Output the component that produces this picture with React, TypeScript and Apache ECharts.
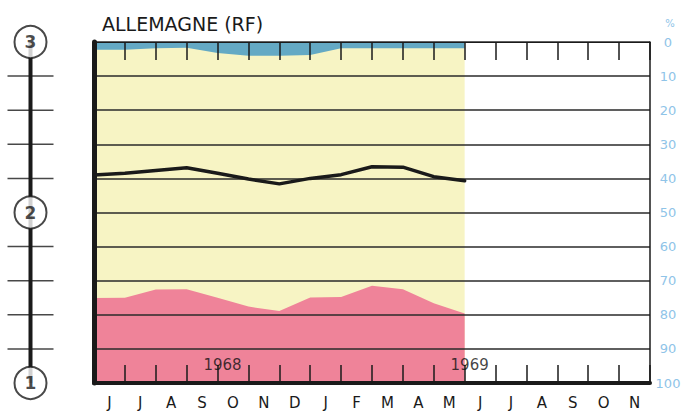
import React, { useEffect, useRef } from "react";
import * as echarts from "echarts";

const months = ["J", "J", "A", "S", "O", "N", "D", "J", "F", "M", "A", "M", "J", "J", "A", "S", "O", "N"];
const dataX = [0, 1, 2, 3, 4, 5, 6, 7, 8, 9, 10, 11, 12];
const blueShare = [2.3, 2.3, 1.8, 1.7, 3.2, 4.0, 4.0, 3.8, 1.8, 1.8, 1.8, 1.8, 1.8];
const blackLine = [39.0, 38.5, 37.7, 36.9, 38.5, 40.2, 41.6, 40.0, 38.9, 36.6, 36.7, 39.5, 40.7];
const pinkShare = [75.1, 75.0, 72.6, 72.5, 75.0, 77.6, 78.9, 74.9, 74.8, 71.5, 72.5, 76.6, 79.6];
const years = ["1968", "1969"];
const yearPos = [4, 12];
const yearLevel = 94.7;
const shadedSpan = [0, 12];
const leftTickLevels = [10, 20, 30, 40, 60, 70, 80, 90];
const circleLevels = [0, 50, 100];
const circleLabels = ["3", "2", "1"];

const BLUE = "#64a9c4";
const YELLOW = "#f7f4c4";
const PINK = "#ef8399";
const LABEL_BLUE = "#8fc4e8";
const INK = "#1a1a1a";
const FONT = "DejaVu Sans";

export default function App() {
  const ref = useRef<HTMLDivElement>(null);
  useEffect(() => {
    if (!ref.current) return;
    const chart = echarts.init(ref.current, null, { renderer: "svg" });
    chart.setOption({
      animation: false,
      backgroundColor: "#ffffff",
      title: {
        text: "ALLEMAGNE (RF)",
        left: 97,
        top: 9,
        textStyle: { fontFamily: FONT, fontSize: 19, fontWeight: "normal", color: INK },
      },
      graphic: [
        {
          type: "text",
          x: 670,
          y: 23,
          style: { text: "%", fontSize: 10, fontFamily: FONT, fill: LABEL_BLUE, align: "center", verticalAlign: "middle" },
        },
      ],
      grid: [
        { left: 94, right: 41, top: 42, bottom: 32 },
        { left: 8, width: 45, top: 42, bottom: 32 },
      ],
      xAxis: [
        {
          type: "category",
          gridIndex: 0,
          data: months,
          boundaryGap: true,
          position: "bottom",
          z: 5,
          axisLine: { show: true, onZero: false, lineStyle: { color: INK, width: 4 } },
          axisTick: { show: true, interval: 0, inside: true, length: 18, lineStyle: { color: INK, width: 1.5 } },
          axisLabel: { show: true, interval: 0, color: INK, fontSize: 15, fontFamily: FONT, margin: 12 },
        },
        {
          type: "category",
          gridIndex: 0,
          data: months,
          boundaryGap: true,
          position: "top",
          z: 5,
          axisLine: { show: true, onZero: false, lineStyle: { color: INK, width: 1 } },
          axisTick: { show: true, interval: 0, inside: true, length: 18, lineStyle: { color: INK, width: 1.5 } },
          axisLabel: { show: false },
        },
        { type: "value", gridIndex: 0, min: 0, max: 18, show: false },
        { type: "value", gridIndex: 1, min: 0, max: 1, show: false },
      ],
      yAxis: [
        {
          type: "value",
          gridIndex: 0,
          inverse: true,
          min: 0,
          max: 100,
          interval: 10,
          position: "left",
          z: 5,
          axisLine: { show: true, onZero: false, lineStyle: { color: INK, width: 5 } },
          axisTick: { show: false },
          axisLabel: { show: false },
          splitLine: { show: true, lineStyle: { color: "#2a2a2a", width: 1.5 } },
        },
        {
          type: "value",
          gridIndex: 0,
          inverse: true,
          min: 0,
          max: 100,
          interval: 10,
          position: "right",
          z: 5,
          axisLine: { show: true, onZero: false, lineStyle: { color: INK, width: 1.5 } },
          axisTick: { show: false },
          splitLine: { show: false },
          axisLabel: { color: LABEL_BLUE, fontSize: 13, fontFamily: FONT, margin: 18, align: "center" },
        },
        { type: "value", gridIndex: 1, inverse: true, min: 0, max: 100, show: false },
      ],
      series: [
        {
          type: "line",
          xAxisIndex: 2,
          yAxisIndex: 0,
          z: 1,
          data: [],
          markArea: {
            silent: true,
            itemStyle: { color: YELLOW },
            data: [[{ xAxis: shadedSpan[0] }, { xAxis: shadedSpan[1] }]],
          },
        },
        {
          type: "line",
          xAxisIndex: 2,
          yAxisIndex: 0,
          z: 2,
          symbol: "none",
          data: dataX.map((x, i) => [x, blueShare[i]]),
          lineStyle: { width: 0 },
          areaStyle: { origin: "start", color: BLUE, opacity: 1 },
        },
        {
          type: "line",
          xAxisIndex: 2,
          yAxisIndex: 0,
          z: 2,
          symbol: "none",
          data: dataX.map((x, i) => [x, pinkShare[i]]),
          lineStyle: { width: 0 },
          areaStyle: { origin: "end", color: PINK, opacity: 1 },
        },
        {
          type: "line",
          xAxisIndex: 2,
          yAxisIndex: 0,
          z: 6,
          symbol: "none",
          data: dataX.map((x, i) => [x, blackLine[i]]),
          lineStyle: { color: INK, width: 3.5, join: "round", cap: "round" },
        },
        {
          type: "scatter",
          xAxisIndex: 2,
          yAxisIndex: 0,
          z: 7,
          symbolSize: 0,
          data: yearPos.map((x, i) => ({ value: [x, yearLevel], name: years[i] })),
          label: {
            show: true,
            position: "inside",
            offset: [5, 0],
            formatter: (p: any) => p.name,
            color: "#111111",
            fontSize: 15,
            fontWeight: 500,
            fontFamily: FONT,
          },
        },
        {
          type: "line",
          xAxisIndex: 3,
          yAxisIndex: 2,
          z: 2,
          symbol: "none",
          data: [[0.5, 0], [0.5, 100]],
          lineStyle: { color: INK, width: 4 },
        },
        {
          type: "scatter",
          xAxisIndex: 3,
          yAxisIndex: 2,
          z: 2,
          symbol: "rect",
          symbolSize: [46, 1.5],
          itemStyle: { color: INK },
          data: leftTickLevels.map((v) => [0.5, v]),
        },
        {
          type: "scatter",
          xAxisIndex: 3,
          yAxisIndex: 2,
          z: 3,
          symbol: "circle",
          symbolSize: 32,
          itemStyle: { color: "#ffffff", borderColor: INK, borderWidth: 2 },
          data: circleLevels.map((v, i) => ({ value: [0.5, v], name: circleLabels[i] })),
          label: {
            show: true,
            position: "inside",
            formatter: (p: any) => p.name,
            color: INK,
            fontSize: 17,
            fontWeight: "bold",
            fontFamily: FONT,
          },
        },
      ],
    });
    return () => chart.dispose();
  }, []);
  return <div ref={ref} style={{ position: "absolute", left: 0, top: 0, width: 691, height: 415 }} />;
}
